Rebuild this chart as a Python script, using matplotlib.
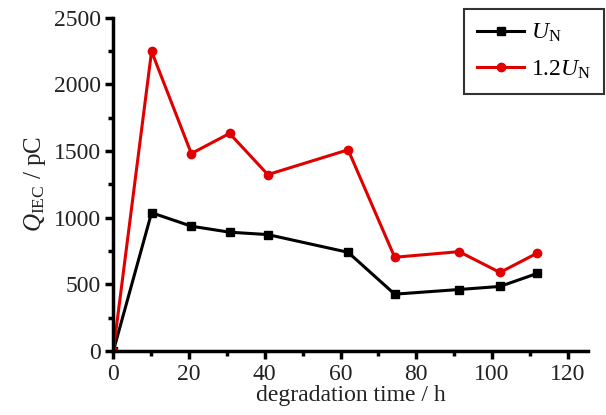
import matplotlib
matplotlib.use("Agg")
import matplotlib.pyplot as plt
from matplotlib.ticker import MultipleLocator

plt.rcParams['font.family'] = ['Liberation Serif', 'DejaVu Serif']
plt.rcParams['mathtext.fontset'] = 'custom'
plt.rcParams['mathtext.rm'] = 'Liberation Serif'
plt.rcParams['mathtext.it'] = 'Liberation Serif:italic'

time_h = [0, 10.1, 20.6, 30.7, 40.8, 62.0, 74.3, 91.3, 102.1, 112.0]
q_un = [0, 1038, 937, 892, 874, 741, 427, 462, 485, 583]
q_12un = [0, 2249, 1482, 1633, 1324, 1510, 704, 746, 590, 736]

fig = plt.figure(figsize=(6.06, 4.15), dpi=100)
ax = fig.add_axes([0.187, 0.154, 0.783, 0.803])

ax.plot(time_h, q_un, color='black', lw=2.2, marker='s', ms=6, label=r'$U_{\rm N}$')
ax.plot(time_h, q_12un, color='#e00000', lw=2.2, marker='o', ms=6, label=r'$1.2U_{\rm N}$')

ax.set_xlim(0, 125.3)
ax.set_ylim(0, 2500)
ax.xaxis.set_major_locator(MultipleLocator(20))
ax.xaxis.set_minor_locator(MultipleLocator(10))
ax.yaxis.set_major_locator(MultipleLocator(500))
ax.yaxis.set_minor_locator(MultipleLocator(250))

for s in ['top', 'right']:
    ax.spines[s].set_visible(False)
for s in ['left', 'bottom']:
    ax.spines[s].set_linewidth(2.5)
ax.tick_params(which='major', direction='out', length=6, width=2.5, labelsize=17, pad=3)
ax.tick_params(which='minor', direction='out', length=3.5, width=2.5)
for lbl in ax.get_xticklabels() + ax.get_yticklabels():
    lbl.set_color('#222222')

ax.set_xlabel('degradation time / h', fontsize=17, labelpad=0, color='#222222')
ax.set_ylabel(r'$Q_{\rm IEC}$ / pC', fontsize=18, labelpad=4, color='#222222')

leg = ax.legend(loc='upper right', bbox_to_anchor=(1.035, 1.027), fontsize=17,
                frameon=True, fancybox=False, edgecolor='black',
                handlelength=2.0, borderpad=0.55, labelspacing=0.6, handletextpad=0.3,
                borderaxespad=0)
leg.get_frame().set_linewidth(1.5)

fig.savefig('out.png', dpi=100)
